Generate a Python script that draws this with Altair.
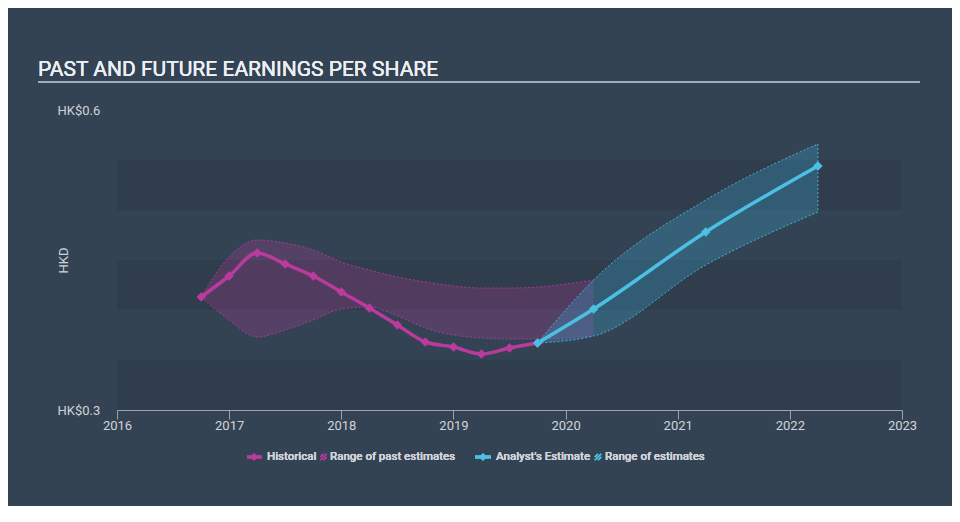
import altair as alt
import pandas as pd

# ---------------- data ----------------
hist_x = [2016.75, 2017.0, 2017.25, 2017.5, 2017.75, 2018.0, 2018.25, 2018.5,
          2018.75, 2019.0, 2019.25, 2019.5, 2019.75]
hist_eps = [0.413, 0.434, 0.457, 0.446, 0.434, 0.418, 0.402, 0.385,
            0.368, 0.363, 0.356, 0.362, 0.367]

past_x = [2016.75, 2017.0, 2017.25, 2017.5, 2017.75, 2018.0, 2018.25, 2018.5,
          2018.75, 2019.0, 2019.25, 2019.5, 2019.75, 2020.25]
past_low = [0.413, 0.390, 0.373, 0.380, 0.390, 0.401, 0.403, 0.394,
            0.382, 0.375, 0.372, 0.371, 0.371, 0.374]
past_high = [0.413, 0.453, 0.470, 0.467, 0.460, 0.448, 0.440, 0.433,
             0.428, 0.424, 0.422, 0.422, 0.423, 0.430]

fut_x = [2019.75, 2020.25, 2021.25, 2022.25]
fut_eps = [0.367, 0.401, 0.478, 0.544]
fut_low = [0.367, 0.374, 0.445, 0.498]
fut_high = [0.367, 0.430, 0.510, 0.566]

band_lo = [0.30, 0.40, 0.50]
band_hi = [0.35, 0.45, 0.55]

x_ticks = [2016, 2017, 2018, 2019, 2020, 2021, 2022, 2023]
y_ticks = [0.3, 0.6]

title_text = "PAST AND FUTURE EARNINGS PER SHARE"
legend_labels = ["Historical", "Range of past estimates", "Analyst's Estimate", "Range of estimates"]

# ---------------- style ----------------
BG = "#344354"
BAND = "#303d4d"
PINK = "#bb3a9d"
BLUE = "#4cc0e4"
TXT = "#d0d4d9"
W, H = 785, 300
FONT = "Roboto"

hist = pd.DataFrame({"x": hist_x, "eps": hist_eps})
past = pd.DataFrame({"x": past_x, "lo": past_low, "hi": past_high})
fut = pd.DataFrame({"x": fut_x, "eps": fut_eps, "lo": fut_low, "hi": fut_high})
bands = pd.DataFrame({"lo": band_lo, "hi": band_hi})

xscale = alt.Scale(domain=[2016, 2023], nice=False, zero=False)
yscale = alt.Scale(domain=[0.3, 0.6], nice=False, zero=False)

xaxis = alt.Axis(values=x_ticks, format="d", title=None, grid=False, labelFlush=False,
                 domainColor="#9aa5b1", tickColor="#9aa5b1", tickSize=9,
                 labelPadding=0, labelColor=TXT, labelFontSize=13, labelFont=FONT)
yaxis = alt.Axis(values=y_ticks, format=".1f", labelExpr="'HK$' + format(datum.value, '.1f')",
                 title="HKD", titleColor=TXT, titleFontSize=13, titleFont=FONT,
                 titleFontWeight="normal", titleX=-54, titleY=150, titleAngle=270,
                 titleAlign="center", titleBaseline="middle", labelFlush=False,
                 grid=False, domain=False, ticks=False, tickSize=0,
                 labelPadding=60, labelAlign="left", labelBaseline="middle",
                 labelColor=TXT, labelFontSize=13, labelFont=FONT)

band_layer = alt.Chart(bands).mark_rect(color=BAND).encode(
    x=alt.value(0), x2=alt.value(W),
    y=alt.Y("lo:Q", scale=yscale, axis=yaxis), y2="hi:Q")

past_area = alt.Chart(past).mark_area(
    interpolate="monotone", fill=PINK, fillOpacity=0.24).encode(
    x=alt.X("x:Q", scale=xscale, axis=xaxis),
    y=alt.Y("lo:Q", scale=yscale), y2="hi:Q")
past_edge_lo = alt.Chart(past).mark_line(
    interpolate="monotone", color=PINK, strokeWidth=1, strokeDash=[2, 2], opacity=0.85).encode(
    x=alt.X("x:Q", scale=xscale), y=alt.Y("lo:Q", scale=yscale))
past_edge_hi = alt.Chart(past).mark_line(
    interpolate="monotone", color=PINK, strokeWidth=1, strokeDash=[2, 2], opacity=0.85).encode(
    x=alt.X("x:Q", scale=xscale), y=alt.Y("hi:Q", scale=yscale))

fut_area = alt.Chart(fut).mark_area(
    interpolate="monotone", fill="#3aaed6", fillOpacity=0.28,
    stroke=BLUE, strokeWidth=1, strokeDash=[2, 2], strokeOpacity=0.85).encode(
    x=alt.X("x:Q", scale=xscale), y=alt.Y("lo:Q", scale=yscale), y2="hi:Q")

hist_line = alt.Chart(hist).mark_line(
    interpolate="monotone", color=PINK, strokeWidth=3.5).encode(
    x=alt.X("x:Q", scale=xscale), y=alt.Y("eps:Q", scale=yscale))
hist_pts = alt.Chart(hist).mark_point(
    shape="diamond", filled=True, color=PINK, size=90, opacity=1).encode(
    x=alt.X("x:Q", scale=xscale), y=alt.Y("eps:Q", scale=yscale))

fut_line = alt.Chart(fut).mark_line(
    interpolate="monotone", color=BLUE, strokeWidth=3.5).encode(
    x=alt.X("x:Q", scale=xscale), y=alt.Y("eps:Q", scale=yscale))
fut_pts = alt.Chart(fut).mark_point(
    shape="diamond", filled=True, color=BLUE, size=90, opacity=1).encode(
    x=alt.X("x:Q", scale=xscale), y=alt.Y("eps:Q", scale=yscale))

# ---------------- title & underline ----------------
title_layer = alt.Chart(bands).mark_text(
    text=title_text, align="left", baseline="alphabetic", font=FONT,
    fontSize=21, color="#eceff2").encode(x=alt.value(-79), y=alt.value(-34))
underline = alt.Chart(bands).mark_rule(color="#a3abb4", strokeWidth=2).encode(
    x=alt.value(-79), x2=alt.value(803), y=alt.value(-28))

# ---------------- legend ----------------
LY = 347
hatch = "M-1,1L1,-1M-1,0L0,-1M0,1L1,0"
def leg_line(x0, x1, color):
    return alt.Chart(bands).mark_rule(color=color, strokeWidth=3).encode(
        x=alt.value(x0), x2=alt.value(x1), y=alt.value(LY))
def leg_pt(x, color, shape, size, filled=True):
    return alt.Chart(bands).mark_point(shape=shape, filled=filled, color=color,
                                       size=size, opacity=1, strokeWidth=1.3).encode(
        x=alt.value(x), y=alt.value(LY))
def leg_text(x, t):
    return alt.Chart(bands).mark_text(text=t, align="left", baseline="middle",
                                      font=FONT, fontSize=11.5, fontWeight=500,
                                      color=TXT).encode(x=alt.value(x), y=alt.value(LY))

legend = [
    leg_line(130, 145, PINK), leg_pt(137, PINK, "diamond", 60), leg_text(150, legend_labels[0]),
    leg_pt(206.5, PINK, hatch, 40, filled=False), leg_text(213, legend_labels[1]),
    leg_line(358, 374, BLUE), leg_pt(366, BLUE, "diamond", 60), leg_text(379, legend_labels[2]),
    leg_pt(481, BLUE, hatch, 40, filled=False), leg_text(488, legend_labels[3]),
]

chart = alt.layer(band_layer, past_area, past_edge_lo, past_edge_hi, fut_area,
                  hist_line, fut_line, hist_pts, fut_pts,
                  title_layer, underline, *legend).properties(
    width=W, height=H, background=BG,
    autosize=alt.AutoSizeParams(type="none"),
    padding={"left": 109, "top": 102, "right": 50, "bottom": 96},
).configure_view(stroke=None)

chart.save("out.html", embed_options={"renderer": "svg", "actions": False})
